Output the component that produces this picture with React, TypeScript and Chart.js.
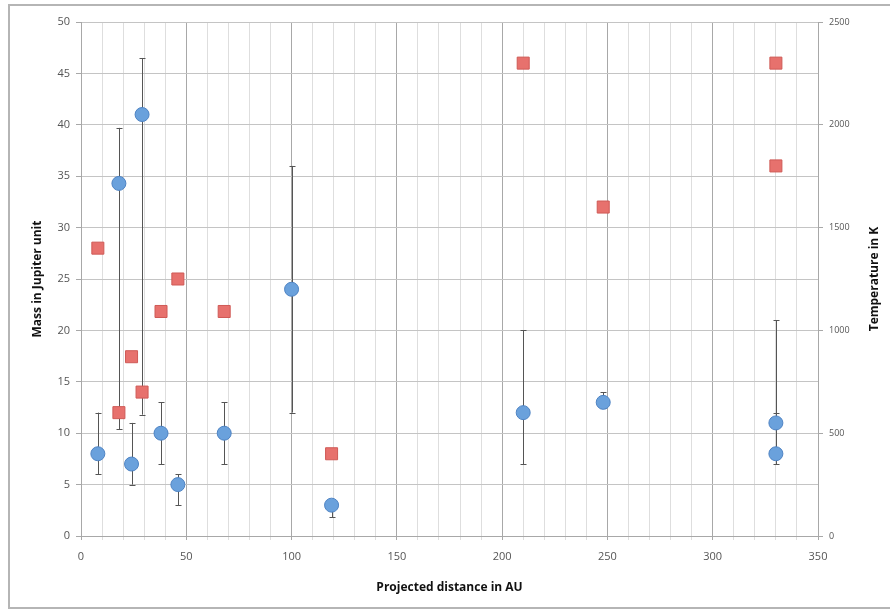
import React, { useEffect, useRef } from "react";
import { Chart, registerables } from "chart.js";

Chart.register(...registerables);

// Projected distance (AU) for each object
const distances = [8, 18, 24, 29, 38, 46, 68, 100, 119, 210, 248, 330, 330];
// Mass in Jupiter units with error bar bounds
const masses = [8, 34.3, 7, 41, 10, 5, 10, 24, 3, 12, 13, 11, 8];
const massLow = [6, 10.4, 5, 11.8, 7, 3, 7, 12, 1.8, 7, 12.5, 8, 7];
const massHigh = [12, 39.7, 11, 46.5, 13, 6, 13, 36, 3, 20, 14, 21, 12];
// Temperature (K)
const tempDistances = [8, 18, 24, 29, 38, 46, 68, 119, 210, 248, 330, 330];
const temperatures = [1400, 600, 872, 700, 1092, 1250, 1092, 400, 2300, 1600, 2300, 1800];

const xTitle = "Projected distance in AU";
const yLeftTitle = "Mass in Jupiter unit";
const yRightTitle = "Temperature in K";

const FONT = "'Open Sans', 'DejaVu Sans', sans-serif";

const errorBarPlugin = {
  id: "errorBars",
  beforeDatasetsDraw(chart: any) {
    const ctx = chart.ctx;
    const xs = chart.scales.x;
    const ys = chart.scales.y;
    ctx.save();
    ctx.strokeStyle = "#555555";
    ctx.lineWidth = 1;
    for (let i = 0; i < distances.length; i++) {
      const px = Math.round(xs.getPixelForValue(distances[i])) + 0.5;
      const lo = ys.getPixelForValue(massLow[i]);
      const hi = ys.getPixelForValue(massHigh[i]);
      ctx.beginPath();
      ctx.moveTo(px, lo);
      ctx.lineTo(px, hi);
      ctx.moveTo(px - 3, Math.round(lo) + 0.5);
      ctx.lineTo(px + 3, Math.round(lo) + 0.5);
      ctx.moveTo(px - 3, Math.round(hi) + 0.5);
      ctx.lineTo(px + 3, Math.round(hi) + 0.5);
      ctx.stroke();
    }
    ctx.restore();
  },
};

const framePlugin = {
  id: "frame",
  beforeDraw(chart: any) {
    const ctx = chart.ctx;
    ctx.save();
    ctx.fillStyle = "#ffffff";
    ctx.fillRect(0, 0, chart.width, chart.height);
    ctx.strokeStyle = "#b5b5b5";
    ctx.lineWidth = 2;
    ctx.beginPath();
    ctx.moveTo(900, 5);
    ctx.lineTo(9, 5);
    ctx.lineTo(9, 608);
    ctx.lineTo(900, 608);
    ctx.stroke();
    ctx.restore();
  },
  afterDraw(chart: any) {
    const ctx = chart.ctx;
    ctx.save();
    ctx.fillStyle = "#111111";
    ctx.font = `bold 12px ${FONT}`;
    ctx.textAlign = "center";
    ctx.textBaseline = "middle";
    const area = chart.chartArea;
    ctx.translate(875, (area.top + area.bottom) / 2);
    ctx.rotate(-Math.PI / 2);
    ctx.fillText(yRightTitle, 0, 0);
    ctx.restore();
  },
};

export default function App() {
  const ref = useRef<HTMLCanvasElement>(null);
  useEffect(() => {
    document.body.style.margin = "0";
    const massPoints = distances.map((d, i) => ({ x: d, y: masses[i] }));
    const tempPoints = tempDistances.map((d, i) => ({ x: d, y: temperatures[i] }));
    const chart = new Chart(ref.current as HTMLCanvasElement, {
      type: "scatter",
      data: {
        datasets: [
          {
            label: "Mass",
            data: massPoints,
            yAxisID: "y",
            pointStyle: "circle",
            pointRadius: 7,
            backgroundColor: "#6aa1dc",
            borderColor: "#4f84c4",
            borderWidth: 1,
            order: 1,
          },
          {
            label: "Temperature",
            data: tempPoints,
            yAxisID: "y2",
            pointStyle: "rect",
            pointRadius: 8.5,
            backgroundColor: "#e7716d",
            borderColor: "#cf5a56",
            borderWidth: 1,
            order: 2,
          },
        ],
      },
      options: {
        responsive: false,
        animation: false,
        layout: { padding: { top: 22, left: 0, right: 0, bottom: 0 } },
        plugins: { legend: { display: false }, tooltip: { enabled: false } },
        scales: {
          x: {
            type: "linear",
            min: 0,
            max: 350,
            afterFit(scale: any) {
              scale.height = 74;
            },
            ticks: {
              stepSize: 10,
              autoSkip: false,
              maxRotation: 0,
              padding: 10,
              color: "#555555",
              font: { family: FONT, size: 11 },
              callback: (v: any) => (Number(v) % 50 === 0 ? String(v) : ""),
            },
            grid: {
              color: (c: any) => (c.tick && c.tick.value % 50 === 0 ? "#a8a8a8" : "#dedede"),
              tickColor: (c: any) => (c.tick && c.tick.value % 50 === 0 ? "#a8a8a8" : "#dedede"),
              tickLength: 4,
              lineWidth: 1,
            },
            border: { display: true, color: "#a8a8a8" },
            title: {
              display: true,
              text: xTitle,
              color: "#111111",
              font: { family: FONT, size: 12, weight: "bold" },
              padding: { top: 0, bottom: 15 },
            },
          },
          y: {
            type: "linear",
            position: "left",
            min: 0,
            max: 50,
            afterFit(scale: any) {
              scale.width = 81;
            },
            ticks: {
              stepSize: 5,
              padding: 6,
              color: "#555555",
              font: { family: FONT, size: 11 },
              callback: (v: any) => String(v),
            },
            grid: { color: "#c4c4c4", tickColor: "#a8a8a8", tickLength: 5 },
            border: { display: true, color: "#a8a8a8" },
            title: {
              display: true,
              text: yLeftTitle,
              color: "#111111",
              font: { family: FONT, size: 12, weight: "bold" },
              padding: { top: 30, bottom: 0 },
            },
          },
          y2: {
            type: "linear",
            position: "right",
            min: 0,
            max: 2500,
            afterFit(scale: any) {
              scale.width = 72;
            },
            ticks: {
              stepSize: 500,
              padding: 6,
              color: "#555555",
              font: { family: FONT, size: 9 },
              callback: (v: any) => String(v),
            },
            grid: { drawOnChartArea: false, tickColor: "#a8a8a8", tickLength: 5 },
            border: { display: true, color: "#a8a8a8" },
          },
        },
      },
      plugins: [framePlugin, errorBarPlugin],
    } as any);
    return () => chart.destroy();
  }, []);
  return (
    <div style={{ width: 890, height: 610 }}>
      <canvas ref={ref} width={890} height={610} />
    </div>
  );
}
